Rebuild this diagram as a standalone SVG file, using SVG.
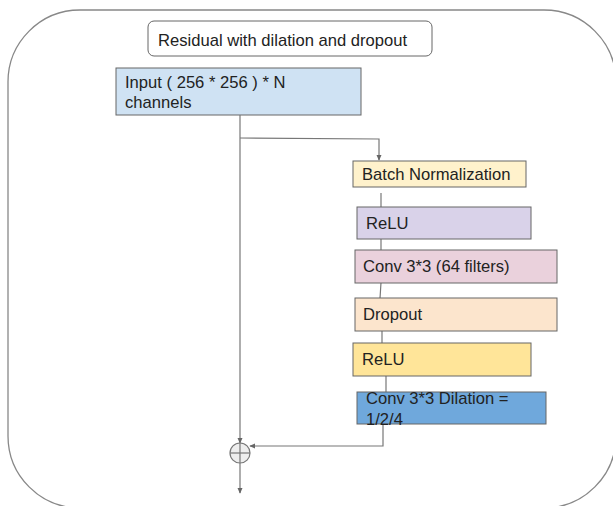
<svg xmlns="http://www.w3.org/2000/svg" width="613" height="506" viewBox="0 0 613 506">
<style>
.t{font-family:"Liberation Sans",Arial,sans-serif;font-size:16.6px;fill:#222}
.box{stroke:#666;stroke-width:1}
.c{fill:none;stroke:#777;stroke-width:1.2}
</style>
<defs>
<marker id="ah" viewBox="0 0 8 8" refX="7" refY="4" markerWidth="6" markerHeight="6" orient="auto" markerUnits="userSpaceOnUse">
<path d="M0,0.5 L8,4 L0,7.5 Z" fill="#666"/>
</marker>
</defs>
<rect width="613" height="506" fill="#fff"/>
<g id="frame"><rect x="8" y="10" width="608" height="498" rx="72" ry="72" fill="none" stroke="#888" stroke-width="1.3"/></g>
<g id="title"><rect x="148" y="21" width="284" height="35" rx="6" fill="#fff" stroke="#666" stroke-width="1"/><text class="t" x="158" y="46">Residual with dilation and dropout</text></g>
<g id="input"><rect class="box" x="116" y="68" width="245" height="47" fill="#cfe2f3"/><text class="t" x="125" y="88">Input ( 256 * 256 ) * N</text><text class="t" x="125" y="108">channels</text></g>
<g id="connectors">
<line class="c" x1="240" y1="115" x2="240" y2="443" marker-end="url(#ah)"/>
<polyline class="c" points="240,138 379,139 379,160" marker-end="url(#ah)"/>
<line class="c" x1="381" y1="193" x2="381" y2="207"/>
<line class="c" x1="381" y1="239" x2="381" y2="250"/>
<line class="c" x1="381" y1="283" x2="380" y2="298"/>
<line class="c" x1="382" y1="331" x2="382" y2="343"/>
<line class="c" x1="386" y1="376" x2="386" y2="392"/>
<polyline class="c" points="383,424 383,446 250,446" marker-end="url(#ah)"/>
<line class="c" x1="240" y1="463" x2="240" y2="493" marker-end="url(#ah)"/>
</g>
<g id="bn"><rect class="box" x="353" y="161" width="173" height="26" fill="#fff2cc"/><text class="t" x="362" y="180">Batch Normalization</text></g>
<g id="relu1"><rect class="box" x="357" y="207" width="174" height="32" fill="#d9d2e9"/><text class="t" x="366" y="229">ReLU</text></g>
<g id="conv1"><rect class="box" x="355" y="250" width="202" height="33" fill="#ead1dc"/><text class="t" x="363" y="272">Conv 3*3 (64 filters)</text></g>
<g id="dropout"><rect class="box" x="355" y="298" width="202" height="33" fill="#fce5cd"/><text class="t" x="363" y="320">Dropout</text></g>
<g id="relu2"><rect class="box" x="353" y="343" width="178" height="33" fill="#ffe599"/><text class="t" x="362" y="365">ReLU</text></g>
<g id="conv2"><rect class="box" x="357" y="392" width="189" height="32" fill="#6fa8dc"/><text class="t" x="366" y="404" fill="#1c2b3a">Conv 3*3 Dilation =</text><text class="t" x="366" y="425" fill="#1c2b3a">1/2/4</text></g>
<g id="sum"><circle cx="240" cy="453" r="10" fill="#eeeeee" stroke="#777" stroke-width="1.2"/><line x1="230" y1="453" x2="250" y2="453" stroke="#777" stroke-width="1.2"/><line x1="240" y1="443" x2="240" y2="463" stroke="#777" stroke-width="1.2"/></g>
</svg>
